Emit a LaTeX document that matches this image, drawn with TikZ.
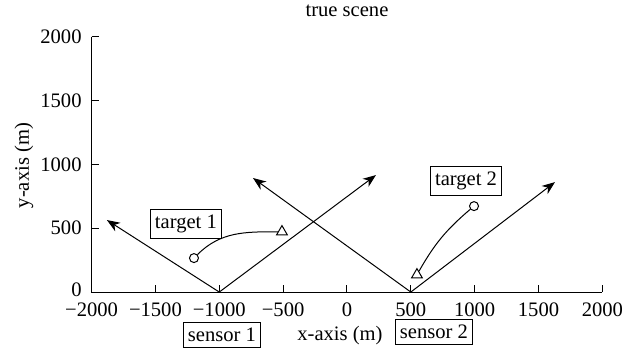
\documentclass[tikz,border=0pt]{standalone}
\usepackage{fontspec}
\setmainfont{Liberation Serif}
\usetikzlibrary{positioning, arrows.meta, shapes.geometric}

\begin{document}
\begin{tikzpicture}
    [
        x=0.0639pt, y=0.0639pt,
        font=\fontsize{10.3}{12.5}\selectfont,
        axis/.style={line width=0.5pt},
        ray/.style={-{Stealth[length=6.5pt, width=5pt, inset=2pt]}, line width=0.5pt},
        track/.style={line width=0.5pt},
        tagbox/.style={draw, rectangle, line width=0.5pt, inner xsep=2.3pt, inner ysep=2.8pt},
        truepos/.style={draw, circle, inner sep=0pt, minimum size=4.5pt, line width=0.5pt},
        estpos/.style={draw, regular polygon, regular polygon sides=3, inner sep=0pt, minimum size=6.2pt, line width=0.5pt},
        xticklab/.style={anchor=north, inner sep=0pt},
        yticklab/.style={anchor=east, inner sep=0pt}
    ]
        \useasboundingbox (-2717,-486) rectangle (2279,2287);
        % =========================================================================
        % AXES
        % =========================================================================
        \coordinate (origin) at (-2000,0);
        \coordinate (xend) at (2000,0);
        \coordinate (yend) at (-2000,2000);
        \draw [axis] (yend) -- (origin) -- (xend);
        % --- x ticks ---
        \draw [axis] (-1500,0) -- ++(0,3.5pt);
        \draw [axis] (-1000,0) -- ++(0,3.5pt);
        \draw [axis] (-500,0) -- ++(0,3.5pt);
        \draw [axis] (0,0) -- ++(0,3.5pt);
        \draw [axis] (500,0) -- ++(0,3.5pt);
        \draw [axis] (1000,0) -- ++(0,3.5pt);
        \draw [axis] (1500,0) -- ++(0,3.5pt);
        \draw [axis] (2000,0) -- ++(0,3.5pt);
        % --- y ticks ---
        \draw [axis] (-2000,500) -- ++(3.5pt,0);
        \draw [axis] (-2000,1000) -- ++(3.5pt,0);
        \draw [axis] (-2000,1500) -- ++(3.5pt,0);
        \draw [axis] (-2000,2000) -- ++(3.5pt,0);
        % --- tick labels ---
        \node [xticklab] (xl1) at (-2000,-82) {\char"2212 2000};
        \node [xticklab] (xl2) at (-1500,-82) {\char"2212 1500};
        \node [xticklab] (xl3) at (-1000,-82) {\char"2212 1000};
        \node [xticklab] (xl4) at (-500,-82) {\char"2212 500};
        \node [xticklab] (xl5) at (0,-82) {0};
        \node [xticklab] (xl6) at (500,-82) {500};
        \node [xticklab] (xl7) at (1000,-82) {1000};
        \node [xticklab] (xl8) at (1500,-82) {1500};
        \node [xticklab] (xl9) at (2000,-82) {2000};
        \node [yticklab] (yl1) at (-2075,15) {0};
        \node [yticklab] (yl2) at (-2075,500) {500};
        \node [yticklab] (yl3) at (-2075,1000) {1000};
        \node [yticklab] (yl4) at (-2075,1500) {1500};
        \node [yticklab] (yl5) at (-2075,2000) {2000};
        % --- titles ---
        \node (title) at (0,2200) {true scene};
        \node (xlabel) at (-55,-337) {x-axis (m)};
        \node [rotate=90] (ylabel) at (-2530,990) {y-axis (m)};

        % =========================================================================
        % SENSORS
        % =========================================================================
        \coordinate (s1) at (-1000,0);
        \coordinate (s2) at (500,0);
        \coordinate (s1left) at (-1880,564);
        \coordinate (s1right) at (227,916);
        \coordinate (s2left) at (-736,893);
        \coordinate (s2right) at (1629,861);
        \node [tagbox] (s1tag) at (-979,-337) {sensor 1};
        \node [tagbox] (s2tag) at (681,-313) {sensor 2};
        \draw [ray] (s1) -- (s1left);
        \draw [ray] (s1) -- (s1right);
        \draw [ray] (s2) -- (s2left);
        \draw [ray] (s2) -- (s2right);

        % =========================================================================
        % TARGETS
        % =========================================================================
        \node [truepos] (t1true) at (-1198,266) {};
        \node [estpos] (t1est) at (-509,472) {};
        \node [truepos] (t2true) at (995,673) {};
        \node [estpos] (t2est) at (548,135) {};
        \node [tagbox] (t1tag) at (-1261,533) {target 1};
        \node [tagbox] (t2tag) at (932,869) {target 2};
        \draw [track] (t1true) to [out=45, in=180] (t1est);
        \draw [track] (t2true) to [bend right=10] (t2est);

    \end{tikzpicture}
\end{document}
